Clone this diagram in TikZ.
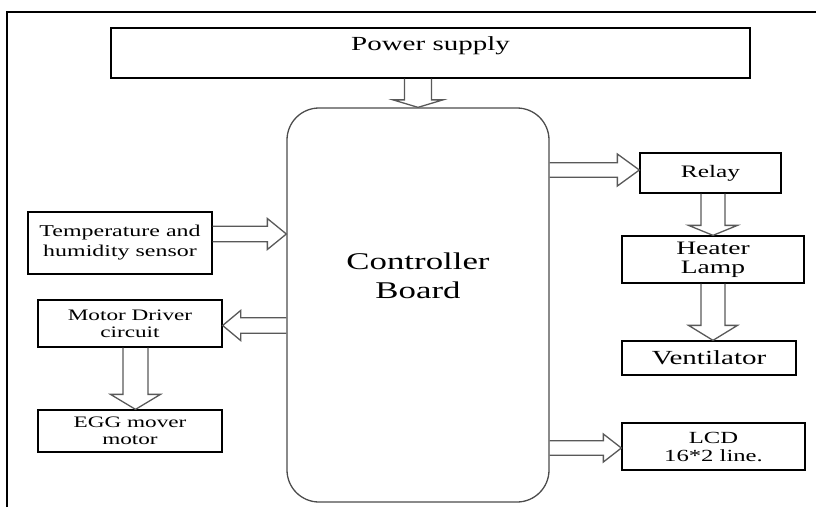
\documentclass[tikz,border=0pt]{standalone}
\usepackage{fontspec}
\setmainfont[FakeStretch=1.45]{Liberation Serif}
\usetikzlibrary{calc}
\tikzset{
  unitbox/.style={draw, line width=1.3pt, align=center, inner sep=0pt},
  boardbox/.style={draw=black!70, line width=1.3pt, rounded corners=32pt},
  arrowline/.style={draw=black!65, line width=1.3pt, line join=miter}
}
% tail, tip, shaft half width, head half width, head length
\newcommand{\blockarrow}[5]{%
  \coordinate (ab) at ($(#2)!#5!(#1)$);
  \draw[arrowline] ($(#1)!#3!90:(#2)$) -- ($(ab)!#3!90:(#2)$) -- ($(ab)!#4!90:(#2)$)
    -- (#2) -- ($(ab)!#4!-90:(#2)$) -- ($(ab)!#3!-90:(#2)$) -- ($(#1)!#3!-90:(#2)$);
}

\begin{document}
\begin{tikzpicture}[x=1pt,y=-1pt]
    \useasboundingbox (0,0) rectangle (816,507);
    \draw[line width=2.5pt] (7,507) -- (7,12) -- (816,12);
    \node[unitbox, minimum width=639pt, text height=22pt, text depth=28pt,
      font=\fontsize{20}{24}\selectfont] (power) at (430.5,53) {Power supply};
    \node[boardbox, minimum width=262pt, minimum height=394pt] (ctrl) at (418,305) {};
    \node[align=center, font=\fontsize{24}{29}\selectfont] (ctrllabel)
      at ([yshift=29pt]ctrl.center) {Controller\\Board};
    \node[unitbox, minimum width=184pt, minimum height=62pt,
      font=\fontsize{16.5}{20}\selectfont] (sensor) at (120,243) {Temperature and\\humidity sensor};
    \node[unitbox, minimum width=184pt, minimum height=47pt,
      font=\fontsize{16}{17}\selectfont] (driver) at (130,323.5) {Motor Driver\\circuit};
    \node[unitbox, minimum width=184pt, minimum height=42pt,
      font=\fontsize{16}{17}\selectfont] (mover) at (130,431) {EGG mover\\motor};
    \node[unitbox, minimum width=141pt, minimum height=40pt,
      font=\fontsize{17.5}{20}\selectfont] (relay) at (710.5,173) {Relay};
    \node[unitbox, minimum width=182pt, minimum height=47pt,
      font=\fontsize{19}{19}\selectfont] (heater) at (713,259.5) {Heater\\Lamp};
    \node[unitbox, minimum width=174pt, minimum height=34pt,
      font=\fontsize{20}{22}\selectfont] (vent) at (709,358) {Ventilator};
    \node[unitbox, minimum width=183pt, minimum height=47pt,
      font=\fontsize{17}{18}\selectfont] (lcd) at (713.5,446.5) {LCD\\16*2 line.};
    \coordinate (pwrtail) at (ctrl.north |- power.south);
    \blockarrow{pwrtail}{ctrl.north}{13.5pt}{25pt}{7.5pt}
    \coordinate (sentail) at ([yshift=9pt]sensor.east);
    \coordinate (sentip) at (sentail -| ctrl.west);
    \blockarrow{sentail}{sentip}{7.8pt}{15.5pt}{19pt}
    \coordinate (drvtip) at ([yshift=-2pt]driver.east);
    \coordinate (drvtail) at (drvtip -| ctrl.west);
    \blockarrow{drvtail}{drvtip}{7.7pt}{15pt}{18pt}
    \coordinate (movtail) at ([xshift=5.5pt]driver.south);
    \coordinate (movtip) at (movtail |- mover.north);
    \blockarrow{movtail}{movtip}{12.5pt}{25pt}{15pt}
    \coordinate (reltip) at ([yshift=3pt]relay.west);
    \coordinate (reltail) at (reltip -| ctrl.east);
    \blockarrow{reltail}{reltip}{7.3pt}{16pt}{22pt}
    \coordinate (heattail) at ([xshift=2.5pt]relay.south);
    \coordinate (heattip) at (heattail |- heater.north);
    \blockarrow{heattail}{heattip}{12pt}{24.5pt}{10pt}
    \coordinate (venttip) at (heater.south |- vent.north);
    \blockarrow{heater.south}{venttip}{12pt}{24.5pt}{15pt}
    \coordinate (lcdtip) at ([yshift=-1.5pt]lcd.west);
    \coordinate (lcdtail) at (lcdtip -| ctrl.east);
    \blockarrow{lcdtail}{lcdtip}{7.2pt}{14pt}{18pt}
  \end{tikzpicture}
\end{document}
